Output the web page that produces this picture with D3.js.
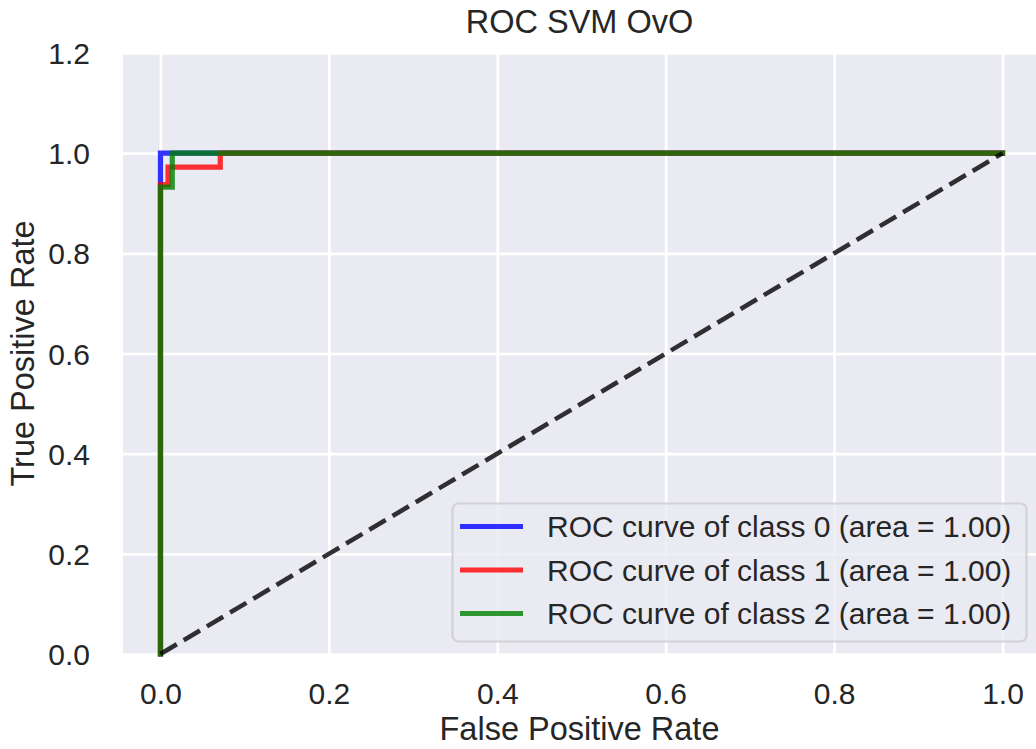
<!DOCTYPE html>
<html>
<head>
<meta charset="utf-8">
<script src="https://cdn.jsdelivr.net/npm/d3@7"></script>
<style>
  html, body { margin: 0; padding: 0; background: #ffffff; }
  svg { display: block; }
  text { font-family: "Liberation Sans", Arial, sans-serif; fill: #262626; }
</style>
</head>
<body>
<svg id="chart" width="1036" height="749"></svg>
<script>
// ---- data ----
const titleText = "ROC SVM OvO";
const xLabel = "False Positive Rate";
const yLabel = "True Positive Rate";
const xTicks = [0.0, 0.2, 0.4, 0.6, 0.8, 1.0];
const yTicks = [0.0, 0.2, 0.4, 0.6, 0.8, 1.0, 1.2];
const classNames = ["ROC curve of class 0 (area = 1.00)", "ROC curve of class 1 (area = 1.00)", "ROC curve of class 2 (area = 1.00)"];
const classColors = ["blue", "red", "green"];
const fpr0 = [0, 0, 0, 1];
const tpr0 = [0, 0.94, 1, 1];
const fpr1 = [0, 0, 0.009, 0.009, 0.071, 0.071, 1];
const tpr1 = [0, 0.937, 0.937, 0.972, 0.972, 1, 1];
const fpr2 = [0, 0, 0.014, 0.014, 1];
const tpr2 = [0, 0.932, 0.932, 1, 1];
const diagX = [0, 1];
const diagY = [0, 1];

const series = [
  { name: classNames[0], color: classColors[0], fpr: fpr0, tpr: tpr0 },
  { name: classNames[1], color: classColors[1], fpr: fpr1, tpr: tpr1 },
  { name: classNames[2], color: classColors[2], fpr: fpr2, tpr: tpr2 }
];

// ---- layout ----
(function () {
const svg = d3.select("#chart");
const pL = 123, pR = 1040, pT = 53, pB = 654;
const x = d3.scaleLinear().domain([-0.0445, 1.0445]).range([pL, pR]);
const y = d3.scaleLinear().domain([0, 1.2]).range([pB, pT]);

// background
svg.append("rect").attr("x", pL).attr("y", pT)
  .attr("width", pR - pL).attr("height", pB - pT)
  .attr("fill", "#eaeaf2");

// grid
const gx = d3.axisBottom(x).tickValues(xTicks).tickSize(-(pB - pT)).tickFormat("");
const gy = d3.axisLeft(y).tickValues(yTicks).tickSize(-(pR - pL)).tickFormat("");
const gridX = svg.append("g").attr("transform", `translate(0,${pB})`).call(gx);
const gridY = svg.append("g").attr("transform", `translate(${pL},0)`).call(gy);
[gridX, gridY].forEach(g => {
  g.select(".domain").remove();
  g.selectAll("line").attr("stroke", "#ffffff").attr("stroke-width", 2.7);
});

// tick labels
const ax = svg.append("g").attr("transform", `translate(0,${pB})`)
  .call(d3.axisBottom(x).tickValues(xTicks).tickSize(0).tickPadding(0).tickFormat(d3.format(".1f")));
ax.select(".domain").remove();
ax.selectAll("text").attr("font-size", 30).attr("dy", null).attr("y", 50)
  .attr("font-family", "Liberation Sans, Arial, sans-serif").attr("fill", "#262626");

const ay = svg.append("g").attr("transform", `translate(${pL},0)`)
  .call(d3.axisLeft(y).tickValues(yTicks).tickSize(0).tickPadding(0).tickFormat(d3.format(".1f")));
ay.select(".domain").remove();
ay.selectAll("text").attr("font-size", 30).attr("x", -33).attr("dy", "0.35em")
  .attr("font-family", "Liberation Sans, Arial, sans-serif").attr("fill", "#262626");

// clip
svg.append("clipPath").attr("id", "plotclip").append("rect")
  .attr("x", pL).attr("y", pT - 10).attr("width", pR - pL).attr("height", pB - pT + 20);

const plot = svg.append("g").attr("clip-path", "url(#plotclip)");
const line = d3.line().x(d => x(d[0])).y(d => y(d[1]));

series.forEach(s => {
  plot.append("path")
    .datum(s.fpr.map((v, i) => [v, s.tpr[i]]))
    .attr("d", line)
    .attr("fill", "none")
    .attr("stroke", s.color)
    .attr("stroke-opacity", 0.8)
    .attr("stroke-width", 5.2)
    .attr("stroke-linejoin", "miter")
    .attr("stroke-linecap", "square");
});

plot.append("path")
  .datum(diagX.map((v, i) => [v, diagY[i]]))
  .attr("d", line)
  .attr("fill", "none")
  .attr("stroke", "#000")
  .attr("stroke-opacity", 0.8)
  .attr("stroke-width", 4.6)
  .attr("stroke-dasharray", "19,8");

// title & labels
svg.append("text").attr("x", (pL + 1036) / 2).attr("y", 33)
  .attr("text-anchor", "middle").attr("font-size", 32.5).text(titleText);
svg.append("text").attr("x", (pL + 1036) / 2).attr("y", 740)
  .attr("text-anchor", "middle").attr("font-size", 32.5).text(xLabel);
svg.append("text").attr("transform", `translate(34,${(pT + pB) / 2}) rotate(-90)`)
  .attr("text-anchor", "middle").attr("font-size", 32.5).text(yLabel);

// legend
const lg = svg.append("g");
const lx = 452.5, ly = 503.5, lw = 574, lh = 138;
lg.append("rect").attr("x", lx).attr("y", ly).attr("width", lw).attr("height", lh)
  .attr("rx", 6).attr("fill", "#eaeaf2").attr("fill-opacity", 0.8)
  .attr("stroke", "#cccccc").attr("stroke-opacity", 0.8).attr("stroke-width", 2.2);
series.forEach((s, i) => {
  const cy = 526.5 + i * 43.5;
  lg.append("line").attr("x1", 460).attr("x2", 523).attr("y1", cy).attr("y2", cy)
    .attr("stroke", s.color).attr("stroke-opacity", 0.8).attr("stroke-width", 5.2);
  lg.append("text").attr("x", 547).attr("y", cy).attr("dy", "0.35em")
    .attr("font-size", 30).text(s.name);
});
})();
</script>
</body>
</html>
